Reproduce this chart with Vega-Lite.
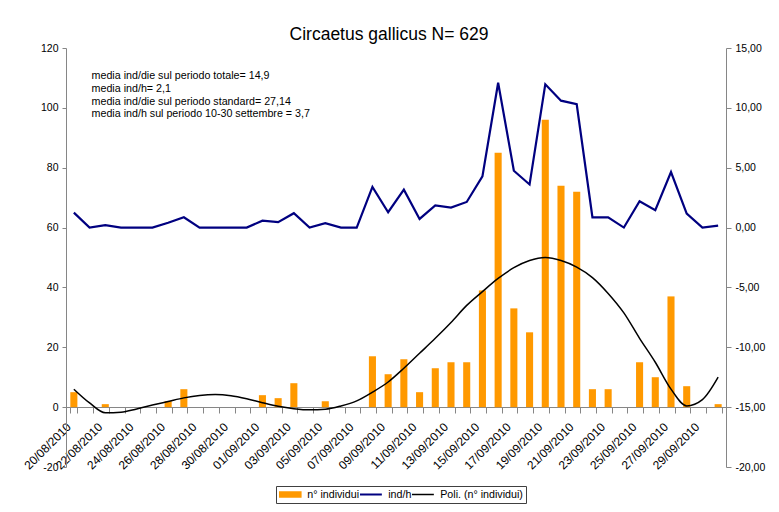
{
  "$schema": "https://vega.github.io/schema/vega-lite/v6.json",
  "width": 660,
  "height": 419,
  "autosize": {"type": "none"},
  "padding": {"left": 66, "top": 48, "right": 53, "bottom": 45},
  "background": "white",
  "config": {
    "view": {"stroke": null},
    "font": "Liberation Sans",
    "locale": {"number": {"decimal": ",", "thousands": ".", "grouping": [3], "currency": ["", " €"], "minus": "-"}},
    "axis": {"labelFont": "Liberation Sans", "labelColor": "#000000", "domainColor": "#868686", "tickColor": "#868686", "grid": false, "title": null}
  },
  "title": {
    "text": "Circaetus gallicus N= 629",
    "fontSize": 17.5,
    "fontWeight": "normal",
    "font": "Liberation Sans",
    "color": "#000000",
    "anchor": "middle",
    "frame": "group",
    "dx": -7,
    "offset": 0
  },
  "datasets": {
    "giorni": [
      {"data": "20/08/2010", "n": 5, "indh": 1.25, "poli": 6.0},
      {"data": "21/08/2010", "n": 0, "indh": 0, "poli": 1.4},
      {"data": "22/08/2010", "n": 1, "indh": 0.2, "poli": -1.9},
      {"data": "23/08/2010", "n": 0, "indh": 0, "poli": -1.7},
      {"data": "24/08/2010", "n": 0, "indh": 0, "poli": -0.6},
      {"data": "25/08/2010", "n": 0, "indh": 0, "poli": 0.7},
      {"data": "26/08/2010", "n": 2, "indh": 0.4, "poli": 1.9},
      {"data": "27/08/2010", "n": 6, "indh": 0.86, "poli": 3.1},
      {"data": "28/08/2010", "n": 0, "indh": 0, "poli": 3.9},
      {"data": "29/08/2010", "n": 0, "indh": 0, "poli": 4.2},
      {"data": "30/08/2010", "n": 0, "indh": 0, "poli": 3.8},
      {"data": "31/08/2010", "n": 0, "indh": 0, "poli": 2.8},
      {"data": "01/09/2010", "n": 4, "indh": 0.58, "poli": 1.5},
      {"data": "02/09/2010", "n": 3, "indh": 0.45, "poli": 0.3},
      {"data": "03/09/2010", "n": 8, "indh": 1.2, "poli": -0.5},
      {"data": "04/09/2010", "n": 0, "indh": 0, "poli": -0.9},
      {"data": "05/09/2010", "n": 2, "indh": 0.36, "poli": -0.7},
      {"data": "06/09/2010", "n": 0, "indh": 0, "poli": 0.4},
      {"data": "07/09/2010", "n": 0, "indh": 0, "poli": 2.1},
      {"data": "08/09/2010", "n": 17, "indh": 3.4, "poli": 5.0},
      {"data": "09/09/2010", "n": 11, "indh": 1.28, "poli": 8.4},
      {"data": "10/09/2010", "n": 16, "indh": 3.17, "poli": 13.0},
      {"data": "11/09/2010", "n": 5, "indh": 0.72, "poli": 18.0},
      {"data": "12/09/2010", "n": 13, "indh": 1.86, "poli": 23.0},
      {"data": "13/09/2010", "n": 15, "indh": 1.67, "poli": 28.3},
      {"data": "14/09/2010", "n": 15, "indh": 2.14, "poli": 34.0},
      {"data": "15/09/2010", "n": 39, "indh": 4.28, "poli": 38.6},
      {"data": "16/09/2010", "n": 85, "indh": 12.1, "poli": 43.0},
      {"data": "17/09/2010", "n": 33, "indh": 4.75, "poli": 46.6},
      {"data": "18/09/2010", "n": 25, "indh": 3.6, "poli": 49.0},
      {"data": "19/09/2010", "n": 96, "indh": 11.97, "poli": 50.0},
      {"data": "20/09/2010", "n": 74, "indh": 10.6, "poli": 49.0},
      {"data": "21/09/2010", "n": 72, "indh": 10.3, "poli": 46.8},
      {"data": "22/09/2010", "n": 6, "indh": 0.86, "poli": 43.3},
      {"data": "23/09/2010", "n": 6, "indh": 0.86, "poli": 38.0},
      {"data": "24/09/2010", "n": 0, "indh": 0, "poli": 31.5},
      {"data": "25/09/2010", "n": 15, "indh": 2.2, "poli": 23.0},
      {"data": "26/09/2010", "n": 10, "indh": 1.45, "poli": 15.0},
      {"data": "27/09/2010", "n": 37, "indh": 4.64, "poli": 6.0},
      {"data": "28/09/2010", "n": 7, "indh": 1.17, "poli": 0.4},
      {"data": "29/09/2010", "n": 0, "indh": 0, "poli": 2.5},
      {"data": "30/09/2010", "n": 1, "indh": 0.17, "poli": 10.0}
    ],
    "note": [
      {"data": "21/08/2010", "y": 112.3, "testo": "media ind/die sul periodo totale= 14,9\nmedia ind/h= 2,1\nmedia ind/die sul periodo standard= 27,14\nmedia ind/h sul periodo 10-30 settembre = 3,7"}
    ]
  },
  "encoding": {
    "x": {
      "field": "data",
      "type": "nominal",
      "sort": null,
      "scale": {
        "type": "band",
        "paddingInner": 0.55,
        "paddingOuter": 0.275,
        "domain": ["20/08/2010","21/08/2010","22/08/2010","23/08/2010","24/08/2010","25/08/2010","26/08/2010","27/08/2010","28/08/2010","29/08/2010","30/08/2010","31/08/2010","01/09/2010","02/09/2010","03/09/2010","04/09/2010","05/09/2010","06/09/2010","07/09/2010","08/09/2010","09/09/2010","10/09/2010","11/09/2010","12/09/2010","13/09/2010","14/09/2010","15/09/2010","16/09/2010","17/09/2010","18/09/2010","19/09/2010","20/09/2010","21/09/2010","22/09/2010","23/09/2010","24/09/2010","25/09/2010","26/09/2010","27/09/2010","28/09/2010","29/09/2010","30/09/2010"]
      },
      "axis": {
        "orient": "bottom",
        "offset": -60,
        "tickBand": "extent",
        "tickSize": 6,
        "labelAngle": -45,
        "labelAlign": "right",
        "labelBaseline": "top",
        "labelOffset": -9,
        "labelPadding": 8,
        "labelFontSize": 12,
        "labelOverlap": false,
        "labelExpr": "(parseInt(substring(datum.value,0,2)) + (substring(datum.value,3,5) == '09' ? 1 : 0)) % 2 == 0 ? datum.value : ''"
      }
    }
  },
  "layer": [
    {
      "layer": [
        {
          "data": {"name": "giorni"},
          "mark": {"type": "bar", "color": "#FF9900"},
          "encoding": {
            "y": {
              "field": "n",
              "type": "quantitative",
              "scale": {"domain": [-20, 120], "nice": false, "zero": false},
              "axis": {"orient": "left", "values": [-20, 0, 20, 40, 60, 80, 100, 120], "tickSize": 4, "labelPadding": 4, "labelFontSize": 10.5, "format": "d"}
            },
            "color": {
              "datum": "n° individui",
              "type": "nominal",
              "scale": {"domain": ["n° individui", "ind/h", "Poli. (n° individui)"], "range": ["#FF9900", "#000080", "#000000"]},
              "legend": {
                "title": null,
                "orient": "none",
                "legendX": 210,
                "legendY": 438,
                "direction": "horizontal",
                "columns": 3,
                "gridAlign": "each",
                "columnPadding": -2,
                "padding": 3,
                "clipHeight": 11,
                "strokeColor": "#404040",
                "labelFont": "Liberation Sans",
                "labelFontSize": 10.7,
                "labelColor": "#000000",
                "labelOffset": 12,
                "symbolOffset": 5.5,
                "symbolSize": 484,
                "encode": {
                  "symbols": {
                    "update": {
                      "shape": {"signal": "datum.value == 'n° individui' ? 'M-1,-0.23H1V0.23H-1Z' : 'M-1,0H1'"},
                      "fill": {"signal": "datum.value == 'n° individui' ? '#FF9900' : 'transparent'"},
                      "stroke": {"signal": "datum.value == 'n° individui' ? 'transparent' : (datum.value == 'ind/h' ? '#000080' : '#000000')"},
                      "strokeWidth": {"signal": "datum.value == 'ind/h' ? 2.2 : 1.5"},
                      "opacity": {"value": 1}
                    }
                  }
                }
              }
            }
          }
        },
        {
          "data": {"name": "giorni"},
          "mark": {"type": "line", "color": "#000000", "strokeWidth": 1.5, "interpolate": "monotone"},
          "encoding": {
            "y": {"field": "poli", "type": "quantitative"},
            "color": {"datum": "Poli. (n° individui)", "type": "nominal"}
          }
        },
        {
          "data": {"name": "note"},
          "mark": {"type": "text", "align": "left", "baseline": "top", "dx": 2, "fontSize": 10.7, "lineHeight": 12.8, "lineBreak": "\n", "color": "#000000", "font": "Liberation Sans"},
          "encoding": {
            "y": {"field": "y", "type": "quantitative"},
            "text": {"field": "testo", "type": "nominal"}
          }
        }
      ]
    },
    {
      "data": {"name": "giorni"},
      "mark": {"type": "line", "color": "#000080", "strokeWidth": 2.2},
      "encoding": {
        "y": {
          "field": "indh",
          "type": "quantitative",
          "scale": {"domain": [-20, 15], "nice": false, "zero": false},
          "axis": {"orient": "right", "values": [-20, -15, -10, -5, 0, 5, 10, 15], "format": ".2f", "tickSize": 5, "labelPadding": 4, "labelFontSize": 10.5}
        },
        "color": {"datum": "ind/h", "type": "nominal"}
      }
    }
  ],
  "resolve": {"scale": {"y": "independent"}}
}
